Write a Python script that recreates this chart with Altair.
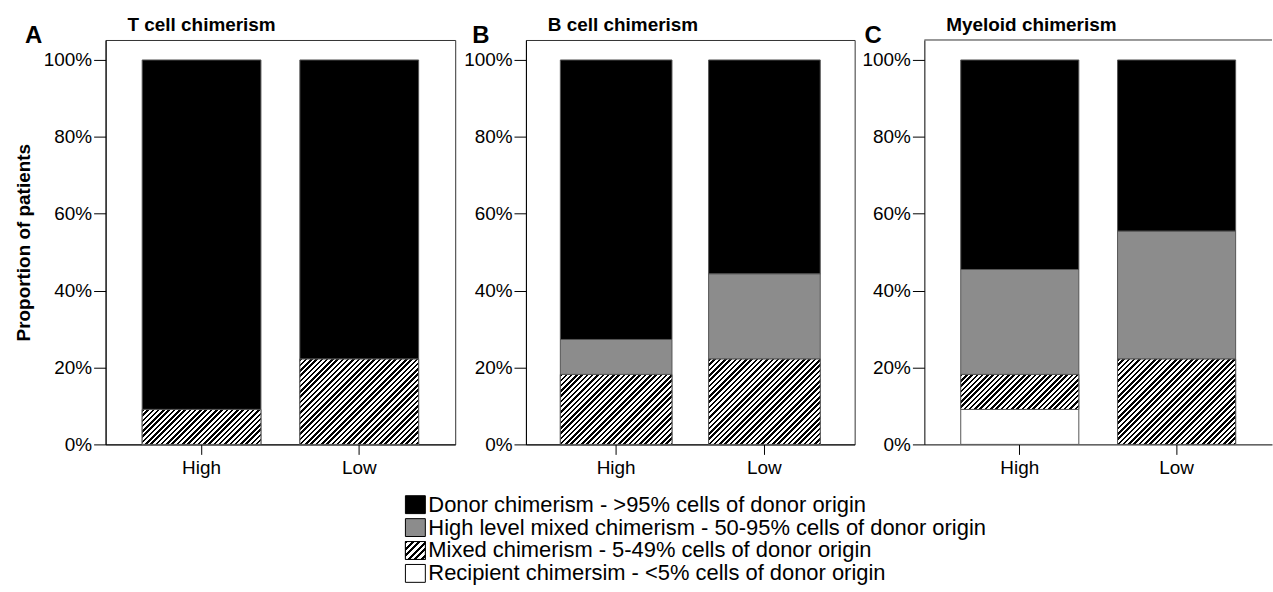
import altair as alt
import pandas as pd

# ---- data -------------------------------------------------------------
GROUPS = ["High", "Low"]
# stack order, bottom to top
STACK_KEYS = ["recipient", "mixed", "high_mixed", "donor"]
FILLS = ["white", "white", "#8c8c8c", "black"]

PANEL_LETTERS = ["A", "B", "C"]
PANEL_TITLES = ["T cell chimerism", "B cell chimerism", "Myeloid chimerism"]

# percent of patients per category (recipient, mixed, high-level mixed, donor)
T_CELL_HIGH = [0.0, 9.1, 0.0, 90.9]
T_CELL_LOW = [0.0, 22.2, 0.0, 77.8]
B_CELL_HIGH = [0.0, 18.2, 9.1, 72.7]
B_CELL_LOW = [0.0, 22.2, 22.2, 55.6]
MYELOID_HIGH = [9.1, 9.1, 27.3, 54.5]
MYELOID_LOW = [0.0, 22.2, 33.3, 44.5]

PANEL_VALUES = [
    [T_CELL_HIGH, T_CELL_LOW],
    [B_CELL_HIGH, B_CELL_LOW],
    [MYELOID_HIGH, MYELOID_LOW],
]

Y_TICKS = [0, 20, 40, 60, 80, 100]

LEGEND_KEYS = ["donor", "high_mixed", "mixed", "recipient"]
LEGEND_LABELS = [
    "Donor chimerism - >95% cells of donor origin",
    "High level mixed chimerism - 50-95% cells of donor origin",
    "Mixed chimerism - 5-49% cells of donor origin",
    "Recipient chimersim - <5% cells of donor origin",
]

# ---- layout / style ---------------------------------------------------
FONT = "Liberation Sans"
FRAME = "#333333"
PANEL_W = [351, 330, 349]
PLOT_H = 406
Y_TOP = 105.2
PAD_INNER, PAD_OUTER = 0.247, 0.232
EDGE = "#555555"
LETTER_DX = [-81, -54, -60]
HATCH_PERIOD = 5.3


def bar_width(w):
    step = w / (2 - PAD_INNER + 2 * PAD_OUTER)
    return step * (1 - PAD_INNER)


def seg_height(v):
    return v / Y_TOP * PLOT_H


def hatch(w, h, period=HATCH_PERIOD, frac=0.48):
    """Diagonal '/' stripes as a hard-stop linear gradient over a w x h box."""
    span = w + h
    stops = []
    pos = 0.0
    while pos < span:
        a = pos / span
        b = min((pos + period * frac) / span, 1.0)
        stops += [
            {"offset": a, "color": "white"},
            {"offset": a, "color": "black"},
            {"offset": b, "color": "black"},
            {"offset": b, "color": "white"},
        ]
        pos += period
    k = span / (w * w + h * h)
    return {"gradient": "linear", "x1": 0, "y1": 0, "x2": w * k, "y2": h * k, "stops": stops}


def panel(i, open_right=False):
    rows = []
    for g, vals in zip(GROUPS, PANEL_VALUES[i]):
        base = 0.0
        for key, v in zip(STACK_KEYS, vals):
            if v > 0:
                rows.append({"group": g, "key": key, "y0": base, "y1": base + v})
            base += v
    df = pd.DataFrame(rows)

    x = alt.X(
        "group:N",
        sort=GROUPS,
        scale=alt.Scale(paddingInner=PAD_INNER, paddingOuter=PAD_OUTER),
        axis=alt.Axis(title=None, labelAngle=0, tickSize=10, labelPadding=4),
    )
    y_axis = alt.Axis(
        values=Y_TICKS,
        labelExpr="datum.value + '%'",
        grid=False,
        tickSize=12,
        labelPadding=2,
        title="Proportion of patients" if i == 0 else None,
        titleFontSize=19,
        titleFontWeight="bold",
        titlePadding=10,
    )
    y = alt.Y("y1:Q", scale=alt.Scale(domain=[0, Y_TOP], nice=False), axis=y_axis)

    base = alt.Chart(df)
    layers = [
        base.mark_bar(stroke=EDGE, strokeWidth=1).encode(
            x=x,
            y=y,
            y2="y0:Q",
            fill=alt.Fill("key:N", scale=alt.Scale(domain=STACK_KEYS, range=FILLS), legend=None),
        )
    ]
    bw = bar_width(PANEL_W[i])
    for g, vals in zip(GROUPS, PANEL_VALUES[i]):
        if vals[1] > 0:
            layers.append(
                base.transform_filter(f"datum.group == '{g}' && datum.key == 'mixed'")
                .mark_bar(fill=hatch(bw, seg_height(vals[1])), stroke=EDGE, strokeWidth=1)
                .encode(x=x, y=y, y2="y0:Q")
            )
    heading = pd.DataFrame({"letter": [PANEL_LETTERS[i]], "title": [PANEL_TITLES[i]]})
    layers.append(
        alt.Chart(heading)
        .mark_text(font=FONT, fontSize=24, fontWeight="bold", align="left", baseline="alphabetic", color="black")
        .encode(x=alt.value(LETTER_DX[i]), y=alt.value(2.6), text="letter:N")
    )
    layers.append(
        alt.Chart(heading)
        .mark_text(font=FONT, fontSize=19, fontWeight="bold", align="left", baseline="alphabetic", color="black")
        .encode(x=alt.value(22), y=alt.value(-9), text="title:N")
    )
    props = {"width": PANEL_W[i], "height": PLOT_H}
    if open_right:
        # the last panel runs off the page edge: only its top border is drawn
        layers.append(
            alt.Chart(heading)
            .mark_rule(color=FRAME, strokeWidth=1)
            .encode(x=alt.value(0), x2=alt.value(PANEL_W[i]), y=alt.value(0))
        )
        props["view"] = alt.ViewBackground(strokeOpacity=0)
    return alt.layer(*layers).properties(**props)


# ---- legend -----------------------------------------------------------
LX = 301
leg_df = pd.DataFrame({"key": LEGEND_KEYS, "label": LEGEND_LABELS})
leg_y = alt.Y(
    "label:N",
    sort=LEGEND_LABELS,
    scale=alt.Scale(paddingInner=0.22, paddingOuter=0.11),
    axis=None,
)
leg_base = alt.Chart(leg_df)
legend = alt.layer(
    leg_base.mark_rect(stroke="black", strokeWidth=1).encode(
        x=alt.value(LX),
        x2=alt.value(LX + 20),
        y=leg_y,
        fill=alt.Fill("key:N", scale=alt.Scale(domain=STACK_KEYS, range=FILLS), legend=None),
    ),
    leg_base.transform_filter("datum.key == 'mixed'")
    .mark_rect(stroke="black", strokeWidth=1, fill=hatch(20, 18, period=6.5, frac=0.45))
    .encode(x=alt.value(LX), x2=alt.value(LX + 20), y=leg_y),
    leg_base.mark_text(align="left", baseline="middle", font=FONT, fontSize=22, color="black").encode(
        x=alt.value(LX + 23), y=leg_y, text="label:N"
    ),
).properties(width=520, height=92, view=alt.ViewBackground(strokeOpacity=0))

panels = alt.hconcat(panel(0), panel(1), panel(2, open_right=True), spacing=6)

chart = (
    alt.vconcat(panels, legend, spacing=15)
    .properties(padding={"left": 13, "top": 14, "right": 0, "bottom": 0}, background="white")
    .configure_view(stroke=FRAME, strokeWidth=1)
    .configure_axis(
        domainColor="black",
        tickColor="black",
        labelColor="black",
        titleColor="black",
        labelFont=FONT,
        titleFont=FONT,
        labelFontSize=19,
    )
)

chart.save("out.html", embed_options={"renderer": "svg", "actions": False})
